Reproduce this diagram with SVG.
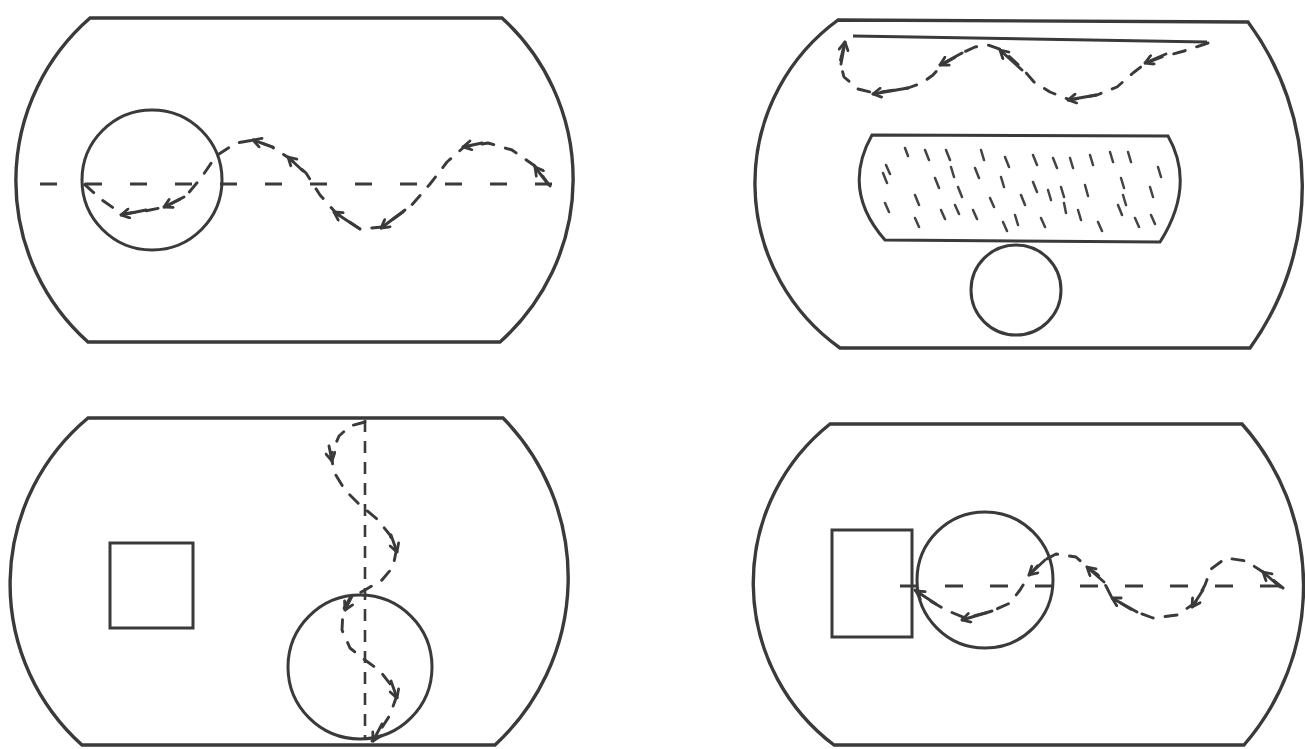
<svg xmlns="http://www.w3.org/2000/svg" width="1305" height="749" viewBox="0 0 1305 749">
<defs>
<marker id="ah" viewBox="0 0 12 12" refX="10.5" refY="6" markerWidth="12" markerHeight="12" markerUnits="userSpaceOnUse" orient="auto">
<path d="M2.5,1.5 L10.5,6 L2.5,10.5" fill="none" stroke="#3a3a3a" stroke-width="2.8" stroke-linecap="round" stroke-linejoin="round"/>
</marker>
<style>
.outline{fill:none;stroke:#3a3a3a;stroke-width:3.4;stroke-linejoin:miter}
.shape{fill:none;stroke:#3a3a3a;stroke-width:3}
.axis{fill:none;stroke:#3a3a3a;stroke-width:2.8;stroke-dasharray:17 28}
.vaxis{fill:none;stroke:#3a3a3a;stroke-width:2.6;stroke-dasharray:12 9}
.wave{fill:none;stroke:#3a3a3a;stroke-width:2.9;stroke-dasharray:12 12;stroke-linecap:round;stroke-linejoin:round}
.arr{fill:none;stroke:#3a3a3a;stroke-width:2.9;stroke-linecap:round;marker-end:url(#ah)}
.hatch{fill:none;stroke:#444;stroke-width:2.5;stroke-linecap:round}
</style>
</defs>
<rect width="1305" height="749" fill="#ffffff"/>

<!-- Panel 1 -->
<g id="panel1">
<path class="outline" d="M90,18 L502,18 A218,218 0 0 1 500,342 L88,342 A216,216 0 0 1 90,18 Z"/>
<circle class="shape" cx="152" cy="180" r="70"/>
<line class="axis" x1="40" y1="184" x2="556" y2="184"/>
</g>

<!-- Panel 2 -->
<g id="panel2">
<path class="outline" d="M838,20 L1248,22 A276,276 0 0 1 1250,348 L840,348 A202,202 0 0 1 838,20 Z"/>
<line class="shape" x1="853" y1="36" x2="1207" y2="42"/>
<path class="shape" d="M872,135 L1168,136 Q1196,185 1160,242 L885,240 Q841,190 872,135 Z"/>
<g id="hatching">
<path class="hatch" d="M886,165 l4,9 M905,148 l3,8 M925,150 l4,10 M946,150 l4,10 M981,150 l3,10 M1005,157 l4,10 M1033,155 l4,10 M1053,158 l4,10 M1070,158 l3,10 M1090,155 l3,10 M1110,152 l3,10 M1128,152 l3,10 M1158,167 l3,10
M883,173 l4,10 M915,195 l4,10 M935,178 l4,10 M951,167 l3,10 M958,187 l4,10 M975,168 l4,10 M1001,177 l3,10 M1021,195 l4,10 M1033,182 l4,10 M1048,190 l3,10 M1061,187 l3,10 M1085,185 l3,11 M1121,178 l3,10 M1123,195 l3,10 M1150,187 l3,10
M885,203 l4,9 M915,218 l4,9 M941,210 l4,9 M955,205 l4,9 M973,210 l4,9 M990,198 l4,9 M1003,222 l4,9 M1015,215 l3,10 M1041,218 l4,9 M1098,222 l4,9 M1078,210 l3,10 M1118,205 l4,10 M1135,218 l4,9 M1151,215 l4,9 M1064,203 l2,10"/>
</g>
<circle class="shape" cx="1016" cy="290" r="45"/>
</g>

<!-- Panel 3 -->
<g id="panel3">
<path class="outline" d="M88,418 L503,418 A228,228 0 0 1 495,745 L82,745 A216,216 0 0 1 88,418 Z"/>
<rect class="shape" x="110" y="543" width="83" height="85"/>
<circle class="shape" cx="360" cy="667" r="72"/>
<line class="vaxis" x1="365" y1="420" x2="365" y2="740"/>
</g>

<!-- Panel 4 -->
<g id="panel4">
<path class="outline" d="M830,424 L1242,424 A243,243 0 0 1 1244,745 L834,745 A203,203 0 0 1 830,424 Z"/>
<rect class="shape" x="832" y="530" width="80" height="107"/>
<circle class="shape" cx="985" cy="580" r="68"/>
<line class="axis" x1="900" y1="586" x2="1290" y2="586" style="stroke-dasharray:18 27"/>
</g>

<!-- connectors: reflected ray paths -->
<g id="connectors">
<!-- panel 1 ray -->
<polyline class="wave" points="550,186 535,166 512,150 488,143 464,147 447,162 430,184 410,207 382,227 360,229 336,213 320,195 306,173 289,158 272,147 254,140 236,143 216,156 201,178 186,196 165,207 145,211 122,214 102,200 84,184"/>
<path class="arr" d="M548,184 L535,167"/>
<path class="arr" d="M482,143 L463,147"/>
<path class="arr" d="M405,210 L381,228"/>
<path class="arr" d="M360,229 L334,212"/>
<path class="arr" d="M303,171 L288,157"/>
<path class="arr" d="M273,147 L253,140"/>
<path class="arr" d="M184,197 L164,207"/>
<path class="arr" d="M146,210 L121,215"/>
<!-- panel 2 ray -->
<polyline class="wave" points="1208,43 1184,51 1162,57 1146,63 1133,73 1117,87 1097,95 1070,100 1050,92 1034,82 1022,68 1002,50 988,45 975,47 962,53 942,65 933,75 922,83 908,88 874,93 858,89 844,77 840,62 845,42"/>
<path class="arr" d="M1166,54 L1145,63"/>
<path class="arr" d="M1096,95 L1068,100"/>
<path class="arr" d="M1022,70 L1000,50"/>
<path class="arr" d="M962,53 L940,65"/>
<path class="arr" d="M908,88 L873,94"/>
<path class="arr" d="M841,64 L845,42"/>
<!-- panel 3 ray -->
<polyline class="wave" points="365,422 350,426 339,436 331,455 334,472 345,490 360,505 377,519 390,535 396,552 393,567 382,580 365,590 350,598 343,610 342,630 350,648 365,660 380,671 391,685 396,698 390,715 381,729 372,741"/>
<path class="arr" d="M329,446 L332,461"/>
<path class="arr" d="M391,535 L397,552"/>
<path class="arr" d="M352,596 L345,610"/>
<path class="arr" d="M391,681 L397,698"/>
<path class="arr" d="M382,724 L373,741"/>
<!-- panel 4 ray -->
<polyline class="wave" points="1283,588 1263,572 1246,561 1226,558 1211,569 1205,585 1195,603 1177,615 1153,618 1134,611 1112,598 1106,586 1098,575 1087,567 1076,557 1056,554 1041,562 1030,574 1020,590 1010,603 990,612 965,618 946,610 927,599 915,590"/>
<path class="arr" d="M1280,587 L1263,572"/>
<path class="arr" d="M1203,590 L1192,607"/>
<path class="arr" d="M1137,612 L1112,598"/>
<path class="arr" d="M1104,582 L1087,567"/>
<path class="arr" d="M1045,560 L1029,575"/>
<path class="arr" d="M992,611 L962,620"/>
<path class="arr" d="M936,604 L916,591"/>
</g>
</svg>
